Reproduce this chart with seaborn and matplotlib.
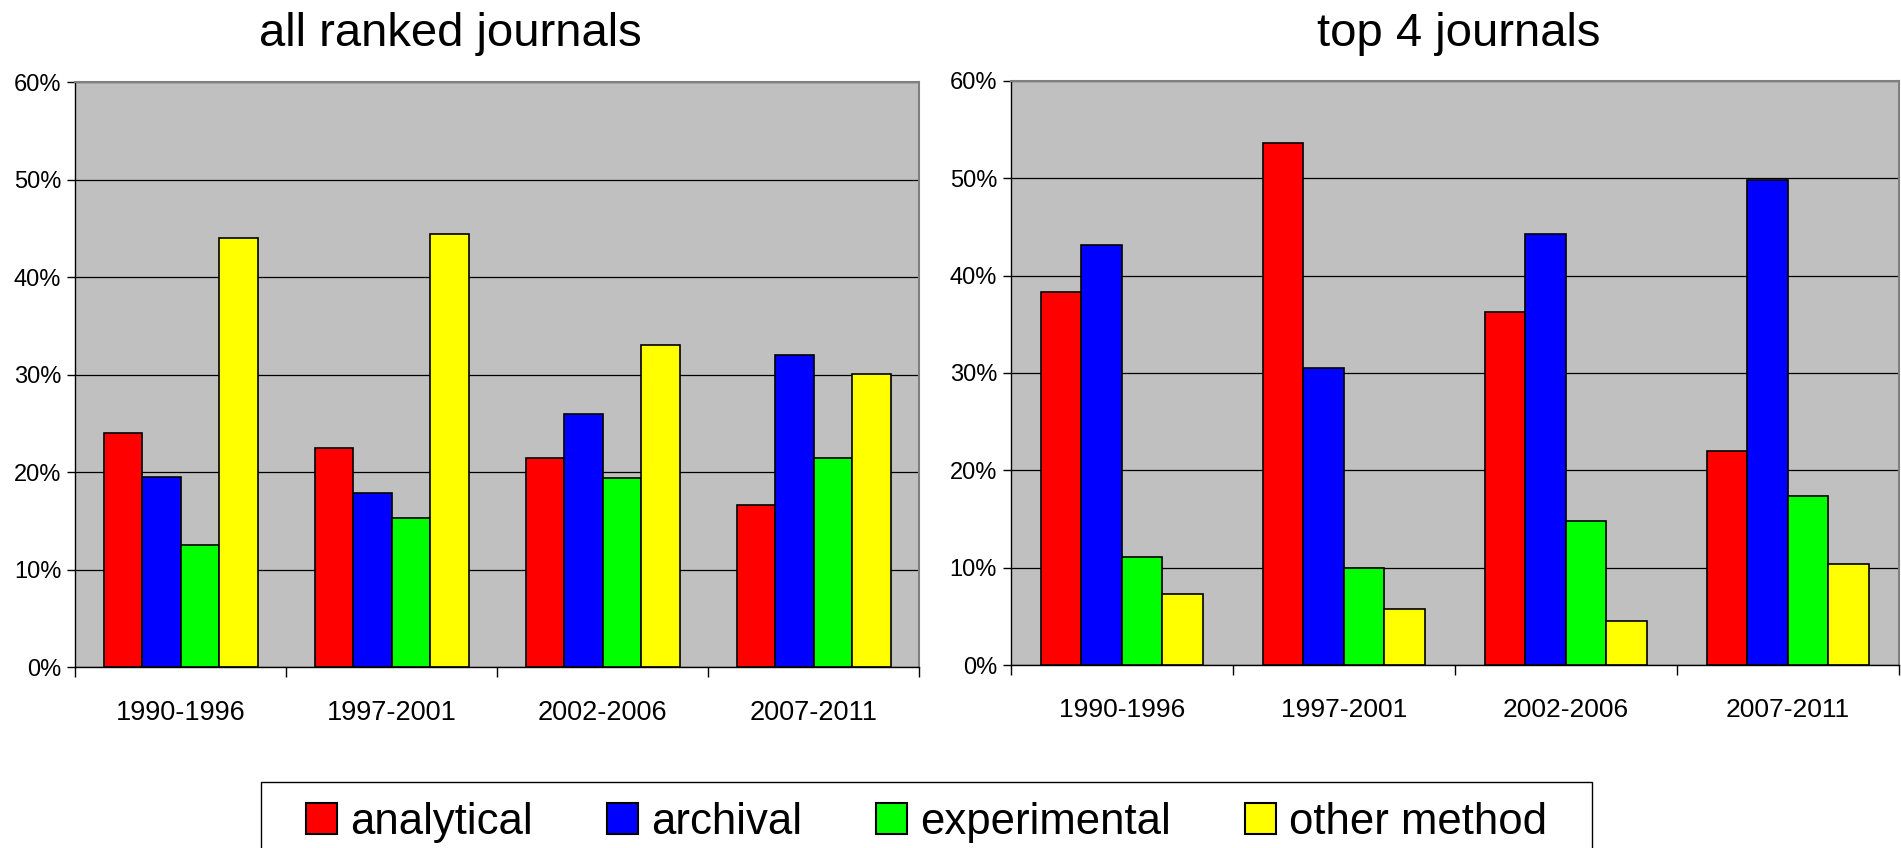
import pandas as pd
import matplotlib
matplotlib.use('Agg')
import matplotlib.pyplot as plt
import seaborn as sns
from matplotlib.patches import Patch, Rectangle
from matplotlib.ticker import FuncFormatter


# Shares of papers by research method, in percent
periods = ['1990-1996', '1997-2001', '2002-2006', '2007-2011']
methods = ['analytical', 'archival', 'experimental', 'other method']
colors = ['#FF0000', '#0000FF', '#00FF00', '#FFFF00']

all_analytical = [24.0, 22.5, 21.4, 16.6]
all_archival = [19.5, 17.8, 26.0, 32.0]
all_experimental = [12.5, 15.3, 19.4, 21.4]
all_other = [44.0, 44.4, 33.0, 30.1]

top_analytical = [38.3, 53.6, 36.3, 22.0]
top_archival = [43.1, 30.5, 44.3, 49.8]
top_experimental = [11.1, 10.0, 14.8, 17.4]
top_other = [7.3, 5.8, 4.5, 10.4]

panel_titles = ['all ranked journals', 'top 4 journals']
y_ticks = [0, 10, 20, 30, 40, 50, 60]


def to_long(series_list):
    rows = []
    for method, vals in zip(methods, series_list):
        for period, v in zip(periods, vals):
            rows.append({'period': period, 'method': method, 'share': v})
    return pd.DataFrame(rows)


all_df = to_long([all_analytical, all_archival, all_experimental, all_other])
top_df = to_long([top_analytical, top_archival, top_experimental, top_other])

sns.set_style('white')
plt.rcParams['font.family'] = ['Liberation Sans', 'DejaVu Sans']
plt.rcParams['text.color'] = 'black'
plt.rcParams['xtick.color'] = 'black'
plt.rcParams['ytick.color'] = 'black'

fig = plt.figure(figsize=(19.01, 8.48), dpi=100)
ax1 = fig.add_axes([0.0395, 0.2134, 0.444, 0.6899])
ax2 = fig.add_axes([0.5318, 0.2158, 0.4671, 0.6887])

for ax, df, xfs in [(ax1, all_df, 19.5), (ax2, top_df, 19)]:
    sns.barplot(data=df, x='period', y='share', hue='method', hue_order=methods,
                order=periods, palette=colors, width=0.73, gap=0, saturation=1,
                edgecolor='black', linewidth=1.2, legend=False, ax=ax)
    ax.set_facecolor('#C0C0C0')
    ax.set_xlim(-0.5, 3.5)
    ax.set_ylim(0, 60)
    ax.set_yticks(y_ticks)
    ax.yaxis.set_major_formatter(FuncFormatter(lambda v, p: f'{int(v)}%'))
    ax.yaxis.grid(True, color='black', linewidth=0.9)
    ax.set_axisbelow(True)
    ax.set_xlabel('')
    ax.set_ylabel('')
    ax.set_xticks([-0.5, 0.5, 1.5, 2.5, 3.5], minor=True)
    ax.tick_params(axis='x', which='major', length=0, pad=24, labelsize=xfs,
                   labelcolor='black')
    ax.tick_params(axis='x', which='minor', length=7, width=1, color='black',
                   direction='out', bottom=True)
    ax.tick_params(axis='y', which='major', length=6, width=1, color='black',
                   direction='out', left=True, labelsize=17, pad=4,
                   labelcolor='black')
    for side in ['left', 'bottom']:
        ax.spines[side].set_color('black')
        ax.spines[side].set_linewidth(1.0)
    for side in ['top', 'right']:
        ax.spines[side].set_color('#808080')
        ax.spines[side].set_linewidth(1.5)

fig.text(450 / 1901, 1 - 46 / 848, panel_titles[0], fontsize=34,
         ha='center', va='baseline', color='black')
fig.text(1459 / 1901, 1 - 46 / 848, panel_titles[1], fontsize=34,
         ha='center', va='baseline', color='black')

# legend box runs off the bottom edge of the figure
fig.add_artist(Rectangle((261 / 1901, -0.01), 1331 / 1901, 0.01 + (848 - 782) / 848,
                         transform=fig.transFigure, fill=False,
                         edgecolor='black', linewidth=1.0))

handles = [Patch(facecolor=c, edgecolor='black', linewidth=1.5) for c in colors]
leg = fig.legend(handles, methods, loc='upper center',
                 bbox_to_anchor=(0.4874, 1 - 782 / 848), ncol=4, frameon=False,
                 fontsize=31.5, handlelength=0.7, handleheight=0.7,
                 handletextpad=0.3, columnspacing=1.7, borderpad=0.45,
                 borderaxespad=0)
for t in leg.get_texts():
    t.set_color('black')

fig.savefig('out.png', dpi=100)
